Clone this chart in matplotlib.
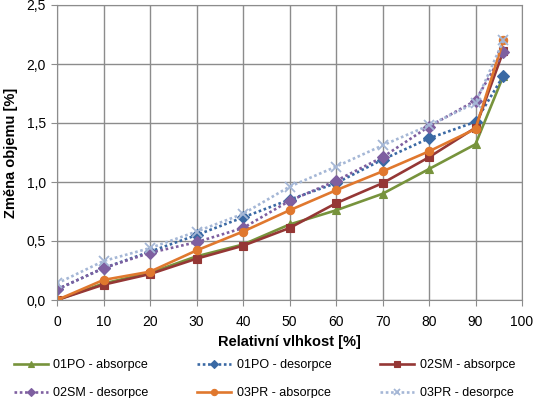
import matplotlib.pyplot as plt
from matplotlib.ticker import FuncFormatter, MultipleLocator

plt.rcParams['font.family'] = ['Liberation Sans', 'DejaVu Sans']

rh = [0, 10, 20, 30, 40, 50, 60, 70, 80, 90, 96]
po_abs = [0.00, 0.14, 0.23, 0.37, 0.47, 0.64, 0.76, 0.90, 1.11, 1.32, 1.90]
po_des = [0.09, 0.27, 0.41, 0.55, 0.70, 0.85, 0.99, 1.19, 1.37, 1.51, 1.90]
sm_abs = [0.00, 0.13, 0.22, 0.35, 0.46, 0.61, 0.82, 0.99, 1.21, 1.46, 2.11]
sm_des = [0.09, 0.27, 0.40, 0.49, 0.61, 0.84, 1.01, 1.21, 1.47, 1.69, 2.10]
pr_abs = [0.00, 0.17, 0.24, 0.42, 0.58, 0.76, 0.93, 1.09, 1.26, 1.45, 2.20]
pr_des = [0.14, 0.33, 0.44, 0.58, 0.73, 0.96, 1.13, 1.31, 1.48, 1.67, 2.20]

series = [
    ('01PO - absorpce', po_abs, '#77933C', '-', '^'),
    ('01PO - desorpce', po_des, '#3A69A4', (0, (1, 1)), 'D'),
    ('02SM - absorpce', sm_abs, '#953735', '-', 's'),
    ('02SM - desorpce', sm_des, '#7E5FA0', (0, (1, 1)), 'D'),
    ('03PR - absorpce', pr_abs, '#E0782E', '-', 'o'),
    ('03PR - desorpce', pr_des, '#A5B7D6', (0, (1, 1)), 'x'),
]

fig = plt.figure(figsize=(5.35, 3.98), dpi=100)
ax = fig.add_axes([57/535, 98/398, 465/535, 295/398])

handles = []
for name, vals, col, ls, mk in series:
    h, = ax.plot(rh, vals, color=col, linestyle=ls, lw=1.9, marker=mk,
                 markersize=6 if mk != 'x' else 6.5,
                 markeredgewidth=0.8 if mk != 'x' else 1.3, label=name)
    handles.append(h)

ax.set_xlim(0, 100)
ax.set_ylim(0, 2.5)
ax.xaxis.set_major_locator(MultipleLocator(10))
ax.yaxis.set_major_locator(MultipleLocator(0.5))
ax.yaxis.set_major_formatter(FuncFormatter(lambda v, p: f'{v:.1f}'.replace('.', ',')))
ax.grid(True, color='#8c8c8c', lw=1)
ax.set_axisbelow(True)
for s in ax.spines.values():
    s.set_color('#8c8c8c')
ax.tick_params(colors='#8c8c8c', labelcolor='black', labelsize=10, length=4,
               direction='out', pad=4)
ax.tick_params(axis='x', pad=7)
ax.set_xlabel('Relativní vlhkost [%]', fontsize=10.5, fontweight='bold', labelpad=4)
ax.set_ylabel('Změna objemu [%]', fontsize=10.5, fontweight='bold', labelpad=6)

# excel fills the legend row by row, matplotlib column by column
order = [0, 3, 1, 4, 2, 5]
leg = fig.legend([handles[i] for i in order], [series[i][0] for i in order],
                 loc='upper left', bbox_to_anchor=(14/535, 1 - 359/398), ncol=3,
                 frameon=False, fontsize=9, handlelength=2.7, handletextpad=0.45,
                 columnspacing=3.9, labelspacing=1.3, borderpad=0, borderaxespad=0,
                 markerscale=0.75)

fig.savefig('out.png', dpi=100)
